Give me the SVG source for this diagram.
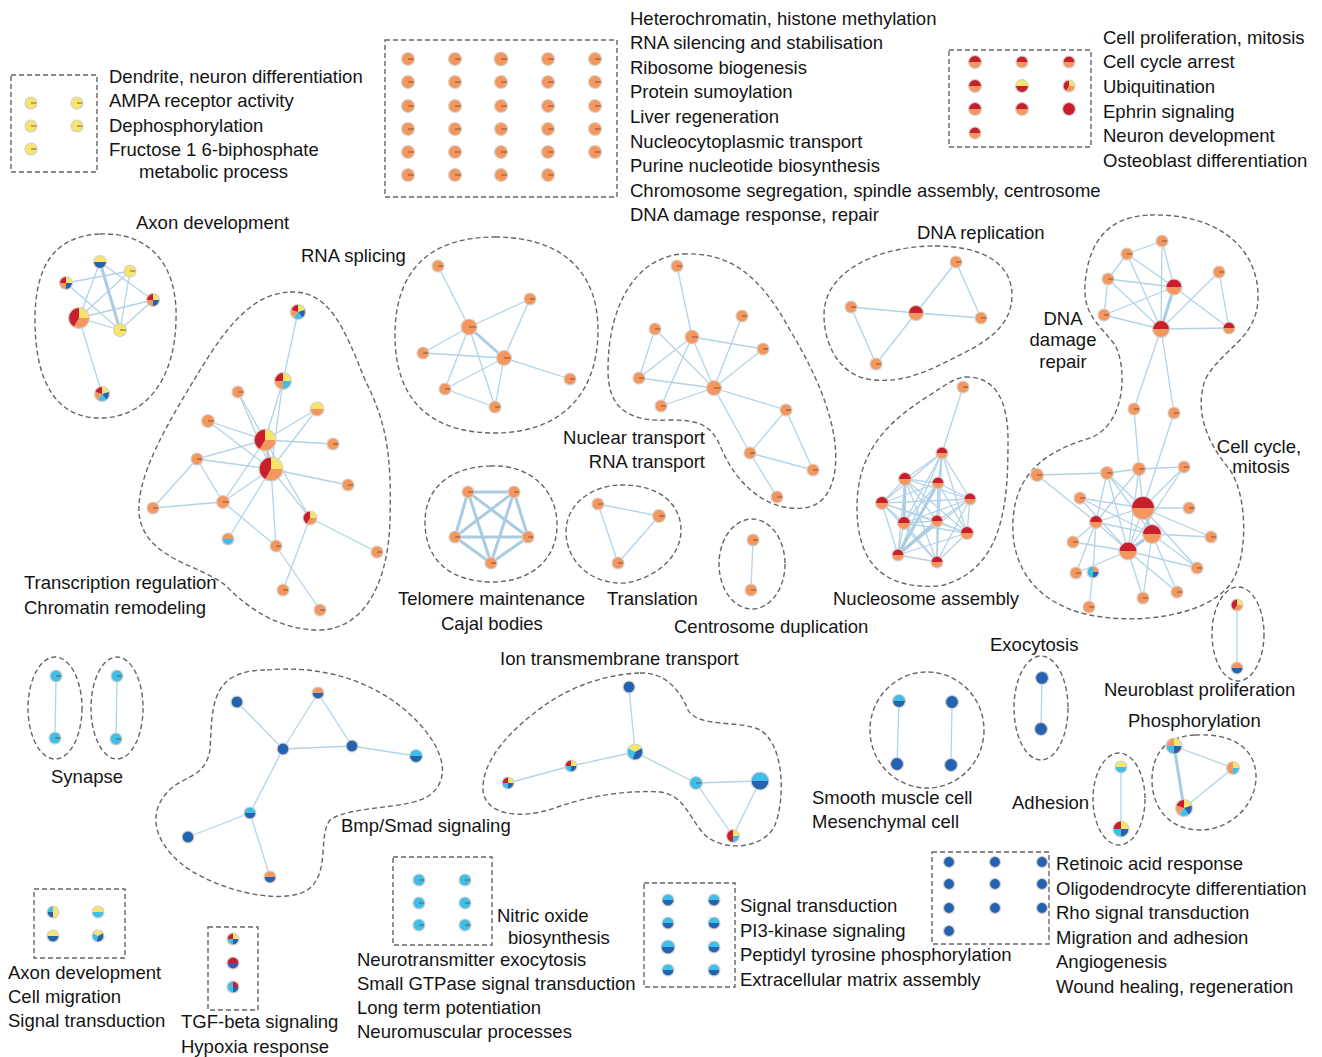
<svg xmlns="http://www.w3.org/2000/svg" xmlns:xlink="http://www.w3.org/1999/xlink" width="1322" height="1057" viewBox="0 0 1322 1057">
<style>
.t{font-family:"Liberation Sans",Arial,sans-serif;font-size:18.5px;fill:#141414}
.m{text-anchor:middle}.r{text-anchor:end}
.h{fill:none;stroke:#666;stroke-width:1.4;stroke-dasharray:5 3}
.e{stroke:#b3d3e8;stroke-width:1.3;fill:none}
.et{stroke:#a9cce3;stroke-width:3;fill:none}
.cY{fill:#f6e46b}.cO{fill:#f4975f}.cR{fill:#c81e2e}.cL{fill:#3dbfea}.cD{fill:#2563b0}
.ol{fill:none;stroke:#d6d2cc;stroke-width:1.2;vector-effect:non-scaling-stroke}
.tk{stroke:#7a4a30;stroke-width:0.9;vector-effect:non-scaling-stroke}
</style>
<defs>
<g id="sO"><circle r="1" class="cO"/><line x1="0" y1="0" x2="1" y2="0" class="tk"/><circle r="1" class="ol"/></g>
<g id="sY"><circle r="1" class="cY"/><line x1="0" y1="0" x2="1" y2="0" class="tk"/><circle r="1" class="ol"/></g>
<g id="sR"><circle r="1" class="cR"/><circle r="1" class="ol"/></g>
<g id="sL"><circle r="1" class="cL"/><line x1="0" y1="0" x2="1" y2="0" class="tk"/><circle r="1" class="ol"/></g>
<g id="sD"><circle r="1" class="cD"/><circle r="1" class="ol"/></g>
<g id="hRO"><path class="cR" d="M-1 0A1 1 0 0 1 1 0Z"/><path class="cO" d="M1 0A1 1 0 0 1 -1 0Z"/><circle r="1" class="ol"/></g>
<g id="hYR"><path class="cY" d="M-1 0A1 1 0 0 1 1 0Z"/><path class="cR" d="M1 0A1 1 0 0 1 -1 0Z"/><circle r="1" class="ol"/></g>
<g id="hYD"><path class="cY" d="M-1 0A1 1 0 0 1 1 0Z"/><path class="cD" d="M1 0A1 1 0 0 1 -1 0Z"/><circle r="1" class="ol"/></g>
<g id="hYO"><path class="cY" d="M-1 0A1 1 0 0 1 1 0Z"/><path class="cO" d="M1 0A1 1 0 0 1 -1 0Z"/><circle r="1" class="ol"/></g>
<g id="hYL"><path class="cY" d="M-1 0A1 1 0 0 1 1 0Z"/><path class="cL" d="M1 0A1 1 0 0 1 -1 0Z"/><circle r="1" class="ol"/></g>
<g id="hOL"><path class="cO" d="M-1 0A1 1 0 0 1 1 0Z"/><path class="cL" d="M1 0A1 1 0 0 1 -1 0Z"/><circle r="1" class="ol"/></g>
<g id="hOD"><path class="cO" d="M-1 0A1 1 0 0 1 1 0Z"/><path class="cD" d="M1 0A1 1 0 0 1 -1 0Z"/><circle r="1" class="ol"/></g>
<g id="hLD"><path class="cL" d="M-1 0A1 1 0 0 1 1 0Z"/><path class="cD" d="M1 0A1 1 0 0 1 -1 0Z"/><circle r="1" class="ol"/></g>
<g id="hRD"><path class="cR" d="M-1 0A1 1 0 0 1 1 0Z"/><path class="cD" d="M1 0A1 1 0 0 1 -1 0Z"/><circle r="1" class="ol"/></g>
<g id="tRYO"><path class="cY" d="M0 0L0 -1A1 1 0 0 1 1 0Z"/><path class="cO" d="M0 0L1 0A1 1 0 0 1 -0.5 0.866Z"/><path class="cR" d="M0 0L-0.5 0.866A1 1 0 0 1 0 -1Z"/><circle r="1" class="ol"/></g>
<g id="qRYOD"><path class="cR" d="M0 0L-1 0A1 1 0 0 1 0 -1Z"/><path class="cY" d="M0 0L0 -1A1 1 0 0 1 1 0Z"/><path class="cD" d="M0 0L1 0A1 1 0 0 1 0 1Z"/><path class="cO" d="M0 0L0 1A1 1 0 0 1 -1 0Z"/><circle r="1" class="ol"/></g>
<g id="qRYOL"><path class="cR" d="M0 0L-1 0A1 1 0 0 1 0 -1Z"/><path class="cY" d="M0 0L0 -1A1 1 0 0 1 1 0Z"/><path class="cL" d="M0 0L1 0A1 1 0 0 1 0 1Z"/><path class="cO" d="M0 0L0 1A1 1 0 0 1 -1 0Z"/><circle r="1" class="ol"/></g>
<g id="qRYLD"><path class="cR" d="M0 0L-1 0A1 1 0 0 1 0 -1Z"/><path class="cY" d="M0 0L0 -1A1 1 0 0 1 1 0Z"/><path class="cD" d="M0 0L1 0A1 1 0 0 1 0 1Z"/><path class="cL" d="M0 0L0 1A1 1 0 0 1 -1 0Z"/><circle r="1" class="ol"/></g>
<g id="qOYLD"><path class="cO" d="M0 0L-1 0A1 1 0 0 1 0 -1Z"/><path class="cY" d="M0 0L0 -1A1 1 0 0 1 1 0Z"/><path class="cD" d="M0 0L1 0A1 1 0 0 1 0 1Z"/><path class="cL" d="M0 0L0 1A1 1 0 0 1 -1 0Z"/><circle r="1" class="ol"/></g>
<g id="p5"><path class="cY" d="M0 0L0 -1A1 1 0 0 1 0.951 -0.309Z"/><path class="cD" d="M0 0L0.951 -0.309A1 1 0 0 1 0.588 0.809Z"/><path class="cL" d="M0 0L0.588 0.809A1 1 0 0 1 -0.588 0.809Z"/><path class="cO" d="M0 0L-0.588 0.809A1 1 0 0 1 -0.951 -0.309Z"/><path class="cR" d="M0 0L-0.951 -0.309A1 1 0 0 1 0 -1Z"/><circle r="1" class="ol"/></g>
<g id="tOYL"><path class="cO" d="M0 -1A1 1 0 0 0 0 1Z"/><path class="cY" d="M0 0L0 -1A1 1 0 0 1 1 0Z"/><path class="cL" d="M0 0L1 0A1 1 0 0 1 0 1Z"/><circle r="1" class="ol"/></g>
<g id="tRYL"><path class="cR" d="M0 -1A1 1 0 0 0 0 1Z"/><path class="cY" d="M0 0L0 -1A1 1 0 0 1 1 0Z"/><path class="cL" d="M0 0L1 0A1 1 0 0 1 0 1Z"/><circle r="1" class="ol"/></g>
<g id="tLOD"><path class="cL" d="M0 -1A1 1 0 0 0 0 1Z"/><path class="cO" d="M0 0L0 -1A1 1 0 0 1 1 0Z"/><path class="cD" d="M0 0L1 0A1 1 0 0 1 0 1Z"/><circle r="1" class="ol"/></g>
<g id="tLRD"><path class="cL" d="M0 -1A1 1 0 0 0 0 1Z"/><path class="cR" d="M0 0L0 -1A1 1 0 0 1 1 0Z"/><path class="cD" d="M0 0L1 0A1 1 0 0 1 0 1Z"/><circle r="1" class="ol"/></g>
<g id="tYLD"><path class="cY" d="M0 0L-0.866 -0.5A1 1 0 0 1 0.866 -0.5Z"/><path class="cD" d="M0 0L0.866 -0.5A1 1 0 0 1 -0.342 0.94Z"/><path class="cL" d="M0 0L-0.342 0.94A1 1 0 0 1 -0.866 -0.5Z"/><circle r="1" class="ol"/></g>
<g id="tYLDx"><path class="cY" d="M0 -1A1 1 0 0 1 0 1Z"/><path class="cL" d="M0 0L0 -1A1 1 0 0 0 -1 0Z"/><path class="cD" d="M0 0L-1 0A1 1 0 0 0 0 1Z"/><circle r="1" class="ol"/></g>
</defs>
<rect width="1322" height="1057" fill="#fff"/>

<g id="hulls">
<rect class="h" x="11" y="75" width="86" height="97"/>
<rect class="h" x="385" y="40" width="232" height="157"/>
<rect class="h" x="949" y="50" width="142" height="97"/>
<rect class="h" x="34" y="889" width="91" height="69"/>
<rect class="h" x="208" y="927" width="50" height="83"/>
<rect class="h" x="393" y="857" width="99" height="88"/>
<rect class="h" x="644" y="883" width="91" height="104"/>
<rect class="h" x="932" y="852" width="117" height="92"/>
<path class="h" d="M100 234C150 232 178 265 176 320C175 380 145 418 100 418C55 418 35 380 35 320C35 265 55 236 100 234Z"/>
<path class="h" d="M290 292C330 290 345 330 365 380C385 420 392 450 390 520C388 590 360 632 315 630C270 628 240 600 225 585C200 565 150 560 140 520C132 480 170 420 200 370C225 330 250 294 290 292Z"/>
<path class="h" d="M495 237C560 237 598 270 598 330C598 395 560 433 495 433C430 433 395 400 395 335C395 270 430 237 495 237Z"/>
<path class="h" d="M683 254C730 252 760 275 790 330C820 380 840 430 835 470C830 505 810 510 790 508C760 505 735 480 722 450C712 425 700 420 670 420C630 422 608 410 608 370C608 300 640 256 683 254Z"/>
<path class="h" d="M935 246C985 246 1012 265 1012 295C1012 330 980 345 950 360C920 375 900 382 875 380C840 378 824 345 824 315C824 270 880 246 935 246Z"/>
<path class="h" d="M965 377C995 376 1008 400 1008 440C1008 500 1005 570 940 586C880 590 858 560 857 510C856 450 890 420 930 395C945 385 955 378 965 377Z"/>
<path class="h" d="M1150 215C1220 213 1260 250 1258 300C1256 340 1220 350 1205 380C1195 410 1205 440 1230 470C1250 500 1248 570 1225 590C1200 615 1140 625 1090 615C1040 605 1010 570 1013 520C1016 470 1050 450 1090 438C1125 425 1128 370 1115 345C1100 325 1083 315 1085 285C1088 240 1110 216 1150 215Z"/>
<path class="h" d="M490 466C530 464 557 490 557 525C557 560 530 583 490 582C450 581 425 560 425 522C425 488 450 467 490 466Z"/>
<path class="h" d="M620 485C660 484 681 505 681 530C681 560 650 580 625 583C590 585 566 560 566 532C566 505 590 486 620 485Z"/>
<ellipse class="h" cx="752" cy="564" rx="33" ry="45"/>
<ellipse class="h" cx="1238" cy="634" rx="26" ry="47"/>
<ellipse class="h" cx="1041" cy="708" rx="27" ry="52"/>
<ellipse class="h" cx="927" cy="730" rx="57" ry="58"/>
<ellipse class="h" cx="1119" cy="799" rx="26" ry="46"/>
<path class="h" d="M1195 735C1235 733 1255 750 1256 775C1257 805 1230 830 1200 830C1170 830 1152 808 1152 780C1152 752 1168 736 1195 735Z"/>
<ellipse class="h" cx="55" cy="708" rx="27" ry="51"/>
<ellipse class="h" cx="117" cy="708" rx="26" ry="51"/>
<path class="h" d="M267 670C320 665 370 680 405 710C440 740 455 775 430 795C410 810 350 805 330 820C318 835 330 870 310 888C290 905 230 895 190 870C160 850 145 820 165 795C180 775 205 780 210 750C212 720 210 690 233 677C245 671 255 670 267 670Z"/>
<path class="h" d="M640 673C665 672 680 690 688 710C698 728 740 720 760 730C785 745 785 800 775 825C765 848 725 853 705 835C690 820 685 795 660 792C630 790 590 795 555 808C520 820 485 815 483 790C482 760 510 730 545 705C575 684 610 674 640 673Z"/>
</g>

<g id="edges">
<!-- axon -->
<line class="e" x1="100" y1="262" x2="79" y2="318"/><line class="et" x1="100" y1="262" x2="120" y2="330"/><line class="e" x1="100" y1="262" x2="153" y2="300"/>
<line class="e" x1="130" y1="271" x2="66" y2="283"/><line class="e" x1="130" y1="271" x2="79" y2="318"/><line class="e" x1="130" y1="271" x2="120" y2="330"/>
<line class="e" x1="66" y1="283" x2="120" y2="330"/><line class="e" x1="153" y1="300" x2="79" y2="318"/><line class="e" x1="153" y1="300" x2="120" y2="330"/>
<line class="e" x1="79" y1="318" x2="120" y2="330"/><line class="e" x1="79" y1="318" x2="102" y2="394"/>
<!-- transcription -->
<line class="e" x1="298" y1="312" x2="283" y2="381"/><line class="e" x1="283" y1="381" x2="265" y2="440"/><line class="e" x1="283" y1="381" x2="271" y2="469"/>
<line class="e" x1="238" y1="392" x2="265" y2="440"/><line class="e" x1="238" y1="392" x2="271" y2="469"/><line class="e" x1="317" y1="409" x2="265" y2="440"/><line class="e" x1="317" y1="409" x2="271" y2="469"/>
<line class="e" x1="208" y1="421" x2="265" y2="440"/><line class="e" x1="208" y1="421" x2="271" y2="469"/><line class="e" x1="265" y1="440" x2="333" y2="444"/><line class="e" x1="265" y1="440" x2="197" y2="459"/>
<line class="e" x1="197" y1="459" x2="271" y2="469"/><line class="e" x1="197" y1="459" x2="223" y2="502"/><line class="e" x1="197" y1="459" x2="153" y2="508"/><line class="e" x1="153" y1="508" x2="223" y2="502"/>
<line class="e" x1="223" y1="502" x2="271" y2="469"/><line class="e" x1="223" y1="502" x2="265" y2="440"/><line class="e" x1="223" y1="502" x2="276" y2="546"/>
<line class="e" x1="271" y1="469" x2="348" y2="485"/><line class="e" x1="271" y1="469" x2="310" y2="518"/><line class="e" x1="265" y1="440" x2="310" y2="518"/><line class="e" x1="271" y1="469" x2="228" y2="539"/>
<line class="e" x1="271" y1="469" x2="276" y2="546"/><line class="e" x1="310" y1="518" x2="377" y2="552"/><line class="e" x1="310" y1="518" x2="283" y2="590"/><line class="e" x1="276" y1="546" x2="320" y2="610"/>
<line class="et" x1="265" y1="440" x2="271" y2="469"/>
<!-- rna splicing -->
<line class="e" x1="438" y1="266" x2="469" y2="327"/><line class="e" x1="469" y1="327" x2="530" y2="299"/><line class="e" x1="530" y1="299" x2="504" y2="358"/><line class="et" x1="469" y1="327" x2="504" y2="358"/>
<line class="e" x1="469" y1="327" x2="423" y2="353"/><line class="e" x1="423" y1="353" x2="504" y2="358"/><line class="e" x1="469" y1="327" x2="445" y2="389"/><line class="e" x1="469" y1="327" x2="495" y2="407"/>
<line class="e" x1="504" y1="358" x2="445" y2="389"/><line class="e" x1="504" y1="358" x2="495" y2="407"/><line class="e" x1="504" y1="358" x2="570" y2="379"/><line class="e" x1="445" y1="389" x2="495" y2="407"/>
<!-- nuclear -->
<line class="e" x1="677" y1="266" x2="692" y2="337"/><line class="e" x1="655" y1="329" x2="639" y2="378"/><line class="e" x1="655" y1="329" x2="714" y2="388"/><line class="e" x1="692" y1="337" x2="763" y2="349"/>
<line class="e" x1="692" y1="337" x2="639" y2="378"/><line class="e" x1="692" y1="337" x2="714" y2="388"/><line class="e" x1="692" y1="337" x2="661" y2="406"/><line class="e" x1="742" y1="316" x2="714" y2="388"/>
<line class="e" x1="763" y1="349" x2="714" y2="388"/><line class="e" x1="639" y1="378" x2="714" y2="388"/><line class="e" x1="714" y1="388" x2="661" y2="406"/><line class="e" x1="714" y1="388" x2="786" y2="410"/>
<line class="e" x1="714" y1="388" x2="750" y2="453"/><line class="e" x1="786" y1="410" x2="750" y2="453"/><line class="e" x1="786" y1="410" x2="813" y2="470"/><line class="e" x1="750" y1="453" x2="813" y2="470"/><line class="e" x1="750" y1="453" x2="777" y2="497"/>
<!-- dna replication -->
<line class="e" x1="956" y1="262" x2="916" y2="313"/><line class="e" x1="956" y1="262" x2="981" y2="318"/><line class="e" x1="851" y1="307" x2="916" y2="313"/><line class="e" x1="851" y1="307" x2="876" y2="364"/><line class="e" x1="916" y1="313" x2="876" y2="364"/><line class="e" x1="916" y1="313" x2="981" y2="318"/>
<!-- nucleosome -->
<line class="e" x1="963" y1="387" x2="942" y2="453"/>
<line class="e" x1="942" y1="453" x2="905" y2="479"/><line class="e" x1="942" y1="453" x2="938" y2="483"/><line class="e" x1="942" y1="453" x2="882" y2="503"/><line class="e" x1="942" y1="453" x2="970" y2="499"/><line class="e" x1="942" y1="453" x2="904" y2="523"/><line class="e" x1="942" y1="453" x2="937" y2="521"/><line class="e" x1="942" y1="453" x2="967" y2="533"/><line class="e" x1="942" y1="453" x2="898" y2="555"/><line class="e" x1="942" y1="453" x2="937" y2="562"/>
<line class="e" x1="905" y1="479" x2="938" y2="483"/><line class="e" x1="905" y1="479" x2="882" y2="503"/><line class="e" x1="905" y1="479" x2="970" y2="499"/><line class="et" x1="905" y1="479" x2="904" y2="523"/><line class="e" x1="905" y1="479" x2="937" y2="521"/><line class="e" x1="905" y1="479" x2="967" y2="533"/><line class="e" x1="905" y1="479" x2="898" y2="555"/><line class="e" x1="905" y1="479" x2="937" y2="562"/>
<line class="e" x1="938" y1="483" x2="882" y2="503"/><line class="e" x1="938" y1="483" x2="970" y2="499"/><line class="e" x1="938" y1="483" x2="904" y2="523"/><line class="e" x1="938" y1="483" x2="937" y2="521"/><line class="e" x1="938" y1="483" x2="967" y2="533"/><line class="et" x1="938" y1="483" x2="898" y2="555"/><line class="e" x1="938" y1="483" x2="937" y2="562"/>
<line class="e" x1="882" y1="503" x2="970" y2="499"/><line class="e" x1="882" y1="503" x2="904" y2="523"/><line class="e" x1="882" y1="503" x2="937" y2="521"/><line class="e" x1="882" y1="503" x2="967" y2="533"/><line class="e" x1="882" y1="503" x2="898" y2="555"/><line class="e" x1="882" y1="503" x2="937" y2="562"/>
<line class="e" x1="970" y1="499" x2="904" y2="523"/><line class="e" x1="970" y1="499" x2="937" y2="521"/><line class="e" x1="970" y1="499" x2="967" y2="533"/><line class="e" x1="970" y1="499" x2="898" y2="555"/><line class="e" x1="970" y1="499" x2="937" y2="562"/>
<line class="e" x1="904" y1="523" x2="937" y2="521"/><line class="e" x1="904" y1="523" x2="967" y2="533"/><line class="e" x1="904" y1="523" x2="898" y2="555"/><line class="e" x1="904" y1="523" x2="937" y2="562"/>
<line class="e" x1="937" y1="521" x2="967" y2="533"/><line class="et" x1="937" y1="521" x2="898" y2="555"/><line class="e" x1="937" y1="521" x2="937" y2="562"/>
<line class="e" x1="967" y1="533" x2="898" y2="555"/><line class="e" x1="967" y1="533" x2="937" y2="562"/><line class="e" x1="898" y1="555" x2="937" y2="562"/>
<!-- cell cycle top -->
<line class="e" x1="1162" y1="241" x2="1127" y2="254"/><line class="e" x1="1162" y1="241" x2="1174" y2="287"/><line class="e" x1="1162" y1="241" x2="1161" y2="329"/><line class="e" x1="1127" y1="254" x2="1108" y2="279"/>
<line class="e" x1="1127" y1="254" x2="1174" y2="287"/><line class="e" x1="1127" y1="254" x2="1161" y2="329"/><line class="e" x1="1108" y1="279" x2="1174" y2="287"/><line class="e" x1="1108" y1="279" x2="1104" y2="315"/>
<line class="e" x1="1108" y1="279" x2="1161" y2="329"/><line class="e" x1="1104" y1="315" x2="1174" y2="287"/><line class="e" x1="1104" y1="315" x2="1161" y2="329"/><line class="et" x1="1174" y1="287" x2="1161" y2="329"/>
<line class="e" x1="1174" y1="287" x2="1229" y2="328"/><line class="e" x1="1219" y1="272" x2="1161" y2="329"/><line class="e" x1="1219" y1="272" x2="1229" y2="328"/><line class="e" x1="1161" y1="329" x2="1229" y2="328"/>
<line class="e" x1="1161" y1="329" x2="1134" y2="409"/><line class="e" x1="1161" y1="329" x2="1174" y2="413"/><line class="e" x1="1134" y1="409" x2="1139" y2="469"/><line class="e" x1="1174" y1="413" x2="1143" y2="508"/>
<!-- cell cycle bottom -->
<line class="e" x1="1037" y1="475" x2="1107" y2="473"/><line class="e" x1="1037" y1="475" x2="1096" y2="522"/><line class="e" x1="1107" y1="473" x2="1139" y2="469"/><line class="e" x1="1139" y1="469" x2="1184" y2="467"/>
<line class="e" x1="1107" y1="473" x2="1096" y2="522"/><line class="e" x1="1107" y1="473" x2="1143" y2="508"/><line class="e" x1="1107" y1="473" x2="1152" y2="534"/><line class="e" x1="1107" y1="473" x2="1128" y2="551"/>
<line class="e" x1="1139" y1="469" x2="1143" y2="508"/><line class="e" x1="1139" y1="469" x2="1128" y2="551"/><line class="e" x1="1139" y1="469" x2="1096" y2="522"/><line class="e" x1="1080" y1="498" x2="1143" y2="508"/>
<line class="e" x1="1080" y1="498" x2="1152" y2="534"/><line class="e" x1="1080" y1="498" x2="1128" y2="551"/><line class="e" x1="1096" y1="522" x2="1143" y2="508"/><line class="e" x1="1096" y1="522" x2="1152" y2="534"/>
<line class="e" x1="1096" y1="522" x2="1128" y2="551"/><line class="e" x1="1096" y1="522" x2="1093" y2="572"/><line class="e" x1="1096" y1="522" x2="1073" y2="542"/><line class="e" x1="1143" y1="508" x2="1189" y2="508"/>
<line class="e" x1="1143" y1="508" x2="1211" y2="537"/><line class="e" x1="1143" y1="508" x2="1128" y2="551"/><line class="et" x1="1143" y1="508" x2="1152" y2="534"/><line class="e" x1="1152" y1="534" x2="1211" y2="537"/>
<line class="e" x1="1152" y1="534" x2="1197" y2="568"/><line class="et" x1="1152" y1="534" x2="1128" y2="551"/><line class="e" x1="1128" y1="551" x2="1073" y2="542"/><line class="e" x1="1128" y1="551" x2="1143" y2="598"/>
<line class="e" x1="1128" y1="551" x2="1177" y2="592"/><line class="e" x1="1128" y1="551" x2="1197" y2="568"/><line class="e" x1="1152" y1="534" x2="1177" y2="592"/><line class="e" x1="1184" y1="467" x2="1143" y2="508"/>
<line class="e" x1="1143" y1="508" x2="1197" y2="568"/><line class="e" x1="1128" y1="551" x2="1076" y2="573"/><line class="e" x1="1152" y1="534" x2="1143" y2="598"/><line class="e" x1="1184" y1="467" x2="1128" y2="551"/>
<line class="e" x1="1093" y1="572" x2="1089" y2="607"/><line class="e" x1="1096" y1="522" x2="1076" y2="573"/>
<!-- telomere -->
<line class="et" x1="468" y1="492" x2="514" y2="492"/><line class="et" x1="468" y1="492" x2="455" y2="537"/><line class="et" x1="468" y1="492" x2="528" y2="537"/><line class="et" x1="468" y1="492" x2="491" y2="563"/>
<line class="et" x1="514" y1="492" x2="455" y2="537"/><line class="et" x1="514" y1="492" x2="528" y2="537"/><line class="et" x1="514" y1="492" x2="491" y2="563"/><line class="et" x1="455" y1="537" x2="528" y2="537"/>
<line class="et" x1="455" y1="537" x2="491" y2="563"/><line class="et" x1="528" y1="537" x2="491" y2="563"/>
<!-- translation / centrosome -->
<line class="e" x1="598" y1="504" x2="659" y2="516"/><line class="e" x1="598" y1="504" x2="618" y2="563"/><line class="e" x1="659" y1="516" x2="618" y2="563"/>
<line class="e" x1="753" y1="540" x2="751" y2="590"/>
<!-- small clusters -->
<line class="e" x1="1237" y1="605" x2="1237" y2="668"/><line class="e" x1="1042" y1="678" x2="1041" y2="729"/>
<line class="e" x1="899" y1="701" x2="897" y2="764"/><line class="e" x1="952" y1="702" x2="951" y2="765"/>
<line class="e" x1="1121" y1="767" x2="1121" y2="829"/>
<line class="e" x1="1174" y1="746" x2="1233" y2="768"/><line class="et" x1="1174" y1="746" x2="1184" y2="808"/><line class="e" x1="1233" y1="768" x2="1184" y2="808"/>
<line class="e" x1="56" y1="676" x2="55" y2="738"/><line class="e" x1="117" y1="676" x2="116" y2="739"/>
<!-- bmp -->
<line class="e" x1="237" y1="702" x2="283" y2="749"/><line class="e" x1="283" y1="749" x2="318" y2="693"/><line class="e" x1="318" y1="693" x2="352" y2="746"/><line class="e" x1="283" y1="749" x2="352" y2="746"/>
<line class="e" x1="352" y1="746" x2="416" y2="756"/><line class="e" x1="283" y1="749" x2="250" y2="813"/><line class="e" x1="250" y1="813" x2="188" y2="837"/><line class="e" x1="250" y1="813" x2="270" y2="877"/>
<!-- ion -->
<line class="e" x1="629" y1="687" x2="635" y2="752"/><line class="e" x1="635" y1="752" x2="571" y2="766"/><line class="e" x1="571" y1="766" x2="508" y2="783"/><line class="e" x1="635" y1="752" x2="696" y2="783"/>
<line class="e" x1="696" y1="783" x2="760" y2="781"/><line class="e" x1="696" y1="783" x2="733" y2="836"/><line class="e" x1="760" y1="781" x2="733" y2="836"/>
</g>

<g id="nodes">
<g id="tl1"><use href="#sY" transform="translate(31 103) scale(6)"/></g>
<g id="tl2"><use href="#sY" transform="translate(77 103) scale(6)"/></g>
<g id="tl3"><use href="#sY" transform="translate(31 126) scale(6)"/></g>
<g id="tl4"><use href="#sY" transform="translate(77 126) scale(6)"/></g>
<g id="tl5"><use href="#sY" transform="translate(31 149) scale(6)"/></g>

<g id="g1"><use href="#sO" transform="translate(408 59) scale(6.5)"/></g>
<g id="g2"><use href="#sO" transform="translate(455 59) scale(6.5)"/></g>
<g id="g3"><use href="#sO" transform="translate(501 59) scale(7)"/></g>
<g id="g4"><use href="#sO" transform="translate(548 59) scale(6.5)"/></g>
<g id="g5"><use href="#sO" transform="translate(595 59) scale(6.5)"/></g>
<g id="g6"><use href="#sO" transform="translate(408 82) scale(6.5)"/></g>
<g id="g7"><use href="#sO" transform="translate(455 82) scale(6.5)"/></g>
<g id="g8"><use href="#sO" transform="translate(501 82) scale(6.5)"/></g>
<g id="g9"><use href="#sO" transform="translate(548 82) scale(6.5)"/></g>
<g id="g10"><use href="#sO" transform="translate(595 82) scale(6.5)"/></g>
<g id="g11"><use href="#sO" transform="translate(408 106) scale(6.5)"/></g>
<g id="g12"><use href="#sO" transform="translate(455 106) scale(6.5)"/></g>
<g id="g13"><use href="#sO" transform="translate(501 106) scale(6.5)"/></g>
<g id="g14"><use href="#sO" transform="translate(548 106) scale(6.5)"/></g>
<g id="g15"><use href="#sO" transform="translate(595 106) scale(6.5)"/></g>
<g id="g16"><use href="#sO" transform="translate(408 129) scale(6.5)"/></g>
<g id="g17"><use href="#sO" transform="translate(455 129) scale(6.5)"/></g>
<g id="g18"><use href="#sO" transform="translate(501 129) scale(6.5)"/></g>
<g id="g19"><use href="#sO" transform="translate(548 129) scale(6.5)"/></g>
<g id="g20"><use href="#sO" transform="translate(595 129) scale(6.5)"/></g>
<g id="g21"><use href="#sO" transform="translate(408 152) scale(6.5)"/></g>
<g id="g22"><use href="#sO" transform="translate(455 152) scale(6.5)"/></g>
<g id="g23"><use href="#sO" transform="translate(501 152) scale(6.5)"/></g>
<g id="g24"><use href="#sO" transform="translate(548 152) scale(6.5)"/></g>
<g id="g25"><use href="#sO" transform="translate(595 152) scale(6.5)"/></g>
<g id="g26"><use href="#sO" transform="translate(408 175) scale(6.5)"/></g>
<g id="g27"><use href="#sO" transform="translate(455 175) scale(6.5)"/></g>
<g id="g28"><use href="#sO" transform="translate(501 175) scale(6.5)"/></g>
<g id="g29"><use href="#sO" transform="translate(548 175) scale(6.5)"/></g>

<g id="tr1"><use href="#hRO" transform="translate(975 62) scale(6.5)"/></g>
<g id="tr2"><use href="#hRO" transform="translate(1022 62) scale(6)"/></g>
<g id="tr3"><use href="#hRO" transform="translate(1069 62) scale(6)"/></g>
<g id="tr4"><use href="#hRO" transform="translate(975 86) scale(6.5)"/></g>
<g id="tr5"><use href="#hYR" transform="translate(1022 86) scale(6.5)"/></g>
<g id="tr6"><use href="#tRYO" transform="translate(1069 86) scale(6)"/></g>
<g id="tr7"><use href="#hRO" transform="translate(975 109) scale(6.5)"/></g>
<g id="tr8"><use href="#hRO" transform="translate(1022 109) scale(6.5)"/></g>
<g id="tr9"><use href="#sR" transform="translate(1069 109) scale(6.5)"/></g>
<g id="tr10"><use href="#hRO" transform="translate(975 133) scale(6)"/></g>

<g id="ax1"><use href="#hYD" transform="translate(100 262) scale(6.5)"/></g>
<g id="ax2"><use href="#sY" transform="translate(130 271) scale(6)"/></g>
<g id="ax3"><use href="#qRYOD" transform="translate(66 283) scale(6.5)"/></g>
<g id="ax4"><use href="#qRYOD" transform="translate(153 300) scale(6.5)"/></g>
<g id="ax5"><use href="#tRYO" transform="translate(79 318) scale(10.5)"/></g>
<g id="ax6"><use href="#sY" transform="translate(120 330) scale(6.5)"/></g>
<g id="ax7"><use href="#p5" transform="translate(102 394) scale(7.5)"/></g>

<g id="tx1"><use href="#p5" transform="translate(298 312) scale(7.5)"/></g>
<g id="tx2"><use href="#qRYOL" transform="translate(283 381) scale(8.5)"/></g>
<g id="tx3"><use href="#sO" transform="translate(238 392) scale(6)"/></g>
<g id="tx4"><use href="#hYO" transform="translate(317 409) scale(7)"/></g>
<g id="tx5"><use href="#sO" transform="translate(208 421) scale(6.5)"/></g>
<g id="tx6"><use href="#tRYO" transform="translate(265 440) scale(11)"/></g>
<g id="tx7"><use href="#sO" transform="translate(333 444) scale(6)"/></g>
<g id="tx8"><use href="#sO" transform="translate(197 459) scale(6)"/></g>
<g id="tx9"><use href="#tRYO" transform="translate(271 469) scale(12)"/></g>
<g id="tx10"><use href="#sO" transform="translate(348 485) scale(6)"/></g>
<g id="tx11"><use href="#sO" transform="translate(223 502) scale(6.5)"/></g>
<g id="tx12"><use href="#sO" transform="translate(153 508) scale(6)"/></g>
<g id="tx13"><use href="#tRYO" transform="translate(310 518) scale(7)"/></g>
<g id="tx14"><use href="#hOL" transform="translate(228 539) scale(6)"/></g>
<g id="tx15"><use href="#sO" transform="translate(276 546) scale(6)"/></g>
<g id="tx16"><use href="#sO" transform="translate(377 552) scale(6)"/></g>
<g id="tx17"><use href="#sO" transform="translate(283 590) scale(6)"/></g>
<g id="tx18"><use href="#sO" transform="translate(320 610) scale(6)"/></g>

<g id="sp1"><use href="#sO" transform="translate(438 266) scale(6)"/></g>
<g id="sp2"><use href="#sO" transform="translate(530 299) scale(6)"/></g>
<g id="sp3"><use href="#sO" transform="translate(469 327) scale(8)"/></g>
<g id="sp4"><use href="#sO" transform="translate(423 353) scale(6)"/></g>
<g id="sp5"><use href="#sO" transform="translate(504 358) scale(7.5)"/></g>
<g id="sp6"><use href="#sO" transform="translate(570 379) scale(6)"/></g>
<g id="sp7"><use href="#sO" transform="translate(445 389) scale(6)"/></g>
<g id="sp8"><use href="#sO" transform="translate(495 407) scale(6)"/></g>

<g id="nt1"><use href="#sO" transform="translate(677 266) scale(6)"/></g>
<g id="nt2"><use href="#sO" transform="translate(742 316) scale(6)"/></g>
<g id="nt3"><use href="#sO" transform="translate(655 329) scale(6)"/></g>
<g id="nt4"><use href="#sO" transform="translate(692 337) scale(7)"/></g>
<g id="nt5"><use href="#sO" transform="translate(763 349) scale(6)"/></g>
<g id="nt6"><use href="#sO" transform="translate(639 378) scale(6)"/></g>
<g id="nt7"><use href="#sO" transform="translate(714 388) scale(7.5)"/></g>
<g id="nt8"><use href="#sO" transform="translate(661 406) scale(6)"/></g>
<g id="nt9"><use href="#sO" transform="translate(786 410) scale(6)"/></g>
<g id="nt10"><use href="#sO" transform="translate(750 453) scale(6)"/></g>
<g id="nt11"><use href="#sO" transform="translate(813 470) scale(6)"/></g>
<g id="nt12"><use href="#sO" transform="translate(777 497) scale(6)"/></g>

<g id="dr1"><use href="#sO" transform="translate(956 262) scale(6)"/></g>
<g id="dr2"><use href="#sO" transform="translate(851 307) scale(6)"/></g>
<g id="dr3"><use href="#hRO" transform="translate(916 313) scale(7.5)"/></g>
<g id="dr4"><use href="#sO" transform="translate(981 318) scale(6)"/></g>
<g id="dr5"><use href="#sO" transform="translate(876 364) scale(6)"/></g>

<g id="nu1"><use href="#sO" transform="translate(963 387) scale(6)"/></g>
<g id="nu2"><use href="#hRO" transform="translate(942 453) scale(6)"/></g>
<g id="nu3"><use href="#hRO" transform="translate(905 479) scale(6.5)"/></g>
<g id="nu4"><use href="#hRO" transform="translate(938 483) scale(6)"/></g>
<g id="nu5"><use href="#hRO" transform="translate(882 503) scale(6.5)"/></g>
<g id="nu6"><use href="#hRO" transform="translate(970 499) scale(6)"/></g>
<g id="nu7"><use href="#hRO" transform="translate(904 523) scale(6.5)"/></g>
<g id="nu8"><use href="#hRO" transform="translate(937 521) scale(6)"/></g>
<g id="nu9"><use href="#hRO" transform="translate(967 533) scale(6.5)"/></g>
<g id="nu10"><use href="#hRO" transform="translate(898 555) scale(6)"/></g>
<g id="nu11"><use href="#hRO" transform="translate(937 562) scale(6)"/></g>

<g id="cc1"><use href="#sO" transform="translate(1162 241) scale(6)"/></g>
<g id="cc2"><use href="#sO" transform="translate(1127 254) scale(6)"/></g>
<g id="cc3"><use href="#sO" transform="translate(1108 279) scale(6)"/></g>
<g id="cc4"><use href="#hRO" transform="translate(1174 287) scale(8)"/></g>
<g id="cc5"><use href="#sO" transform="translate(1219 272) scale(6)"/></g>
<g id="cc6"><use href="#sO" transform="translate(1104 315) scale(6)"/></g>
<g id="cc7"><use href="#hRO" transform="translate(1161 329) scale(8.5)"/></g>
<g id="cc8"><use href="#hRO" transform="translate(1229 328) scale(6)"/></g>
<g id="cc9"><use href="#sO" transform="translate(1134 409) scale(6)"/></g>
<g id="cc10"><use href="#sO" transform="translate(1174 413) scale(6)"/></g>
<g id="cl1"><use href="#sO" transform="translate(1037 475) scale(6.5)"/></g>
<g id="cl2"><use href="#sO" transform="translate(1107 473) scale(6.5)"/></g>
<g id="cl3"><use href="#sO" transform="translate(1139 469) scale(6.5)"/></g>
<g id="cl4"><use href="#sO" transform="translate(1184 467) scale(6)"/></g>
<g id="cl5"><use href="#sO" transform="translate(1080 498) scale(6)"/></g>
<g id="cl6"><use href="#hRO" transform="translate(1143 508) scale(11.5)"/></g>
<g id="cl7"><use href="#sO" transform="translate(1189 508) scale(6)"/></g>
<g id="cl8"><use href="#hRO" transform="translate(1096 522) scale(6.5)"/></g>
<g id="cl9"><use href="#hRO" transform="translate(1152 534) scale(9.5)"/></g>
<g id="cl10"><use href="#sO" transform="translate(1211 537) scale(6)"/></g>
<g id="cl11"><use href="#sO" transform="translate(1073 542) scale(6)"/></g>
<g id="cl12"><use href="#hRO" transform="translate(1128 551) scale(9)"/></g>
<g id="cl13"><use href="#sO" transform="translate(1197 568) scale(6)"/></g>
<g id="cl14"><use href="#sO" transform="translate(1076 573) scale(6)"/></g>
<g id="cl15"><use href="#tLOD" transform="translate(1093 572) scale(6)"/></g>
<g id="cl16"><use href="#sO" transform="translate(1177 592) scale(6)"/></g>
<g id="cl17"><use href="#sO" transform="translate(1143 598) scale(6)"/></g>
<g id="cl18"><use href="#sO" transform="translate(1089 607) scale(6)"/></g>

<g id="te1"><use href="#sO" transform="translate(468 492) scale(6)"/></g>
<g id="te2"><use href="#sO" transform="translate(514 492) scale(6)"/></g>
<g id="te3"><use href="#sO" transform="translate(455 537) scale(6)"/></g>
<g id="te4"><use href="#sO" transform="translate(528 537) scale(6)"/></g>
<g id="te5"><use href="#sO" transform="translate(491 563) scale(6)"/></g>
<g id="tn1"><use href="#sO" transform="translate(598 504) scale(6)"/></g>
<g id="tn2"><use href="#sO" transform="translate(659 516) scale(6.5)"/></g>
<g id="tn3"><use href="#sO" transform="translate(618 563) scale(6)"/></g>
<g id="cd1"><use href="#sO" transform="translate(753 540) scale(6)"/></g>
<g id="cd2"><use href="#sO" transform="translate(751 590) scale(6)"/></g>

<g id="nb1"><use href="#tRYO" transform="translate(1237 605) scale(6)"/></g>
<g id="nb2"><use href="#hOD" transform="translate(1237 668) scale(6)"/></g>
<g id="ex1"><use href="#sD" transform="translate(1042 678) scale(6.5)"/></g>
<g id="ex2"><use href="#sD" transform="translate(1041 729) scale(6.5)"/></g>
<g id="sm1"><use href="#hLD" transform="translate(899 701) scale(6.5)"/></g>
<g id="sm2"><use href="#sD" transform="translate(952 702) scale(6.5)"/></g>
<g id="sm3"><use href="#sD" transform="translate(897 764) scale(6.5)"/></g>
<g id="sm4"><use href="#sD" transform="translate(951 765) scale(6.5)"/></g>
<g id="ad1"><use href="#hYL" transform="translate(1121 767) scale(6)"/></g>
<g id="ad2"><use href="#qRYLD" transform="translate(1121 829) scale(8)"/></g>
<g id="ph1"><use href="#qOYLD" transform="translate(1174 746) scale(8)"/></g>
<g id="ph2"><use href="#tOYL" transform="translate(1233 768) scale(6.5)"/></g>
<g id="ph3"><use href="#p5" transform="translate(1184 808) scale(8.5)"/></g>

<g id="sy1"><use href="#sL" transform="translate(56 676) scale(6)"/></g>
<g id="sy2"><use href="#sL" transform="translate(55 738) scale(6)"/></g>
<g id="sy3"><use href="#sL" transform="translate(117 676) scale(6)"/></g>
<g id="sy4"><use href="#sL" transform="translate(116 739) scale(6)"/></g>

<g id="bm1"><use href="#sD" transform="translate(237 702) scale(6)"/></g>
<g id="bm2"><use href="#hOD" transform="translate(318 693) scale(6)"/></g>
<g id="bm3"><use href="#sD" transform="translate(283 749) scale(6)"/></g>
<g id="bm4"><use href="#sD" transform="translate(352 746) scale(6)"/></g>
<g id="bm5"><use href="#hLD" transform="translate(416 756) scale(6.5)"/></g>
<g id="bm6"><use href="#hLD" transform="translate(250 813) scale(6)"/></g>
<g id="bm7"><use href="#sD" transform="translate(188 837) scale(6)"/></g>
<g id="bm8"><use href="#hOD" transform="translate(270 877) scale(6)"/></g>

<g id="io1"><use href="#sD" transform="translate(629 687) scale(6)"/></g>
<g id="io2"><use href="#tYLD" transform="translate(635 752) scale(8)"/></g>
<g id="io3"><use href="#qRYLD" transform="translate(571 766) scale(6)"/></g>
<g id="io4"><use href="#qRYLD" transform="translate(508 783) scale(6)"/></g>
<g id="io5"><use href="#sL" transform="translate(696 783) scale(6.5)"/></g>
<g id="io6"><use href="#hLD" transform="translate(760 781) scale(9)"/></g>
<g id="io7"><use href="#tRYL" transform="translate(733 836) scale(6.5)"/></g>

<g id="ba1"><use href="#tYLDx" transform="translate(53 912) scale(6)"/></g>
<g id="ba2"><use href="#hYL" transform="translate(98 912) scale(6)"/></g>
<g id="ba3"><use href="#hYD" transform="translate(53 936) scale(6)"/></g>
<g id="ba4"><use href="#tYLD" transform="translate(98 936) scale(6)"/></g>
<g id="tg1"><use href="#qRYLD" transform="translate(233 939) scale(6)"/></g>
<g id="tg2"><use href="#hRD" transform="translate(233 963) scale(6)"/></g>
<g id="tg3"><use href="#tLRD" transform="translate(233 987) scale(6)"/></g>
<g id="no1"><use href="#sL" transform="translate(419 880) scale(6)"/></g>
<g id="no2"><use href="#sL" transform="translate(465 880) scale(6)"/></g>
<g id="no3"><use href="#sL" transform="translate(419 903) scale(6)"/></g>
<g id="no4"><use href="#sL" transform="translate(465 903) scale(6)"/></g>
<g id="no5"><use href="#sL" transform="translate(419 925) scale(6)"/></g>
<g id="no6"><use href="#sL" transform="translate(465 925) scale(6)"/></g>
<g id="st1"><use href="#hLD" transform="translate(668 900) scale(6)"/></g>
<g id="st2"><use href="#hLD" transform="translate(714 900) scale(6)"/></g>
<g id="st3"><use href="#hLD" transform="translate(668 923) scale(6)"/></g>
<g id="st4"><use href="#hLD" transform="translate(714 923) scale(6)"/></g>
<g id="st5"><use href="#hLD" transform="translate(668 947) scale(7)"/></g>
<g id="st6"><use href="#hLD" transform="translate(714 947) scale(6)"/></g>
<g id="st7"><use href="#hLD" transform="translate(668 970) scale(6)"/></g>
<g id="st8"><use href="#hLD" transform="translate(714 970) scale(6)"/></g>
<g id="ra1"><use href="#sD" transform="translate(949 862) scale(5.5)"/></g>
<g id="ra2"><use href="#sD" transform="translate(995 862) scale(5.5)"/></g>
<g id="ra3"><use href="#sD" transform="translate(1042 862) scale(5.5)"/></g>
<g id="ra4"><use href="#sD" transform="translate(949 884) scale(5.5)"/></g>
<g id="ra5"><use href="#sD" transform="translate(995 884) scale(5.5)"/></g>
<g id="ra6"><use href="#sD" transform="translate(1042 884) scale(5.5)"/></g>
<g id="ra7"><use href="#sD" transform="translate(949 908) scale(5.5)"/></g>
<g id="ra8"><use href="#sD" transform="translate(995 908) scale(5.5)"/></g>
<g id="ra9"><use href="#sD" transform="translate(1042 908) scale(5.5)"/></g>
<g id="ra10"><use href="#sD" transform="translate(949 931) scale(5.5)"/></g>
</g>

<g id="labels">
<text class="t" x="109" y="83">Dendrite, neuron differentiation</text>
<text class="t" x="109" y="107">AMPA receptor activity</text>
<text class="t" x="109" y="132">Dephosphorylation</text>
<text class="t" x="109" y="156">Fructose 1 6-biphosphate</text>
<text class="t" x="139" y="178">metabolic process</text>
<text class="t" x="630" y="25">Heterochromatin, histone methylation</text>
<text class="t" x="630" y="49">RNA silencing and stabilisation</text>
<text class="t" x="630" y="74">Ribosome biogenesis</text>
<text class="t" x="630" y="98">Protein sumoylation</text>
<text class="t" x="630" y="123">Liver regeneration</text>
<text class="t" x="630" y="148">Nucleocytoplasmic transport</text>
<text class="t" x="630" y="172">Purine nucleotide biosynthesis</text>
<text class="t" x="630" y="197">Chromosome segregation, spindle assembly, centrosome</text>
<text class="t" x="630" y="221">DNA damage response, repair</text>
<text class="t" x="1103" y="44">Cell proliferation, mitosis</text>
<text class="t" x="1103" y="68">Cell cycle arrest</text>
<text class="t" x="1103" y="93">Ubiquitination</text>
<text class="t" x="1103" y="118">Ephrin signaling</text>
<text class="t" x="1103" y="142">Neuron development</text>
<text class="t" x="1103" y="167">Osteoblast differentiation</text>
<text class="t" x="136" y="229">Axon development</text>
<text class="t" x="301" y="262">RNA splicing</text>
<text class="t" x="917" y="239">DNA replication</text>
<text class="t m" x="1063" y="325">DNA</text>
<text class="t m" x="1063" y="346">damage</text>
<text class="t m" x="1063" y="368">repair</text>
<text class="t m" x="1259" y="453">Cell cycle,</text>
<text class="t m" x="1261" y="473">mitosis</text>
<text class="t r" x="705" y="444">Nuclear transport</text>
<text class="t r" x="705" y="468">RNA transport</text>
<text class="t" x="24" y="589">Transcription regulation</text>
<text class="t" x="24" y="614">Chromatin remodeling</text>
<text class="t" x="398" y="605">Telomere maintenance</text>
<text class="t" x="441" y="630">Cajal bodies</text>
<text class="t" x="607" y="605">Translation</text>
<text class="t" x="833" y="605">Nucleosome assembly</text>
<text class="t" x="674" y="633">Centrosome duplication</text>
<text class="t" x="500" y="665">Ion transmembrane transport</text>
<text class="t" x="990" y="651">Exocytosis</text>
<text class="t" x="1104" y="696">Neuroblast proliferation</text>
<text class="t" x="1128" y="727">Phosphorylation</text>
<text class="t" x="51" y="783">Synapse</text>
<text class="t" x="341" y="832">Bmp/Smad signaling</text>
<text class="t" x="812" y="804">Smooth muscle cell</text>
<text class="t" x="812" y="828">Mesenchymal cell</text>
<text class="t" x="1012" y="809">Adhesion</text>
<text class="t" x="497" y="922">Nitric oxide</text>
<text class="t" x="508" y="944">biosynthesis</text>
<text class="t" x="357" y="966">Neurotransmitter exocytosis</text>
<text class="t" x="357" y="990">Small GTPase signal transduction</text>
<text class="t" x="357" y="1014">Long term potentiation</text>
<text class="t" x="357" y="1038">Neuromuscular processes</text>
<text class="t" x="740" y="912">Signal transduction</text>
<text class="t" x="740" y="937">PI3-kinase signaling</text>
<text class="t" x="740" y="961">Peptidyl tyrosine phosphorylation</text>
<text class="t" x="740" y="986">Extracellular matrix assembly</text>
<text class="t" x="1056" y="870">Retinoic acid response</text>
<text class="t" x="1056" y="895">Oligodendrocyte differentiation</text>
<text class="t" x="1056" y="919">Rho signal transduction</text>
<text class="t" x="1056" y="944">Migration and adhesion</text>
<text class="t" x="1056" y="968">Angiogenesis</text>
<text class="t" x="1056" y="993">Wound healing, regeneration</text>
<text class="t" x="8" y="979">Axon development</text>
<text class="t" x="8" y="1003">Cell migration</text>
<text class="t" x="8" y="1027">Signal transduction</text>
<text class="t" x="181" y="1028">TGF-beta signaling</text>
<text class="t" x="181" y="1053">Hypoxia response</text>
</g>
</svg>
